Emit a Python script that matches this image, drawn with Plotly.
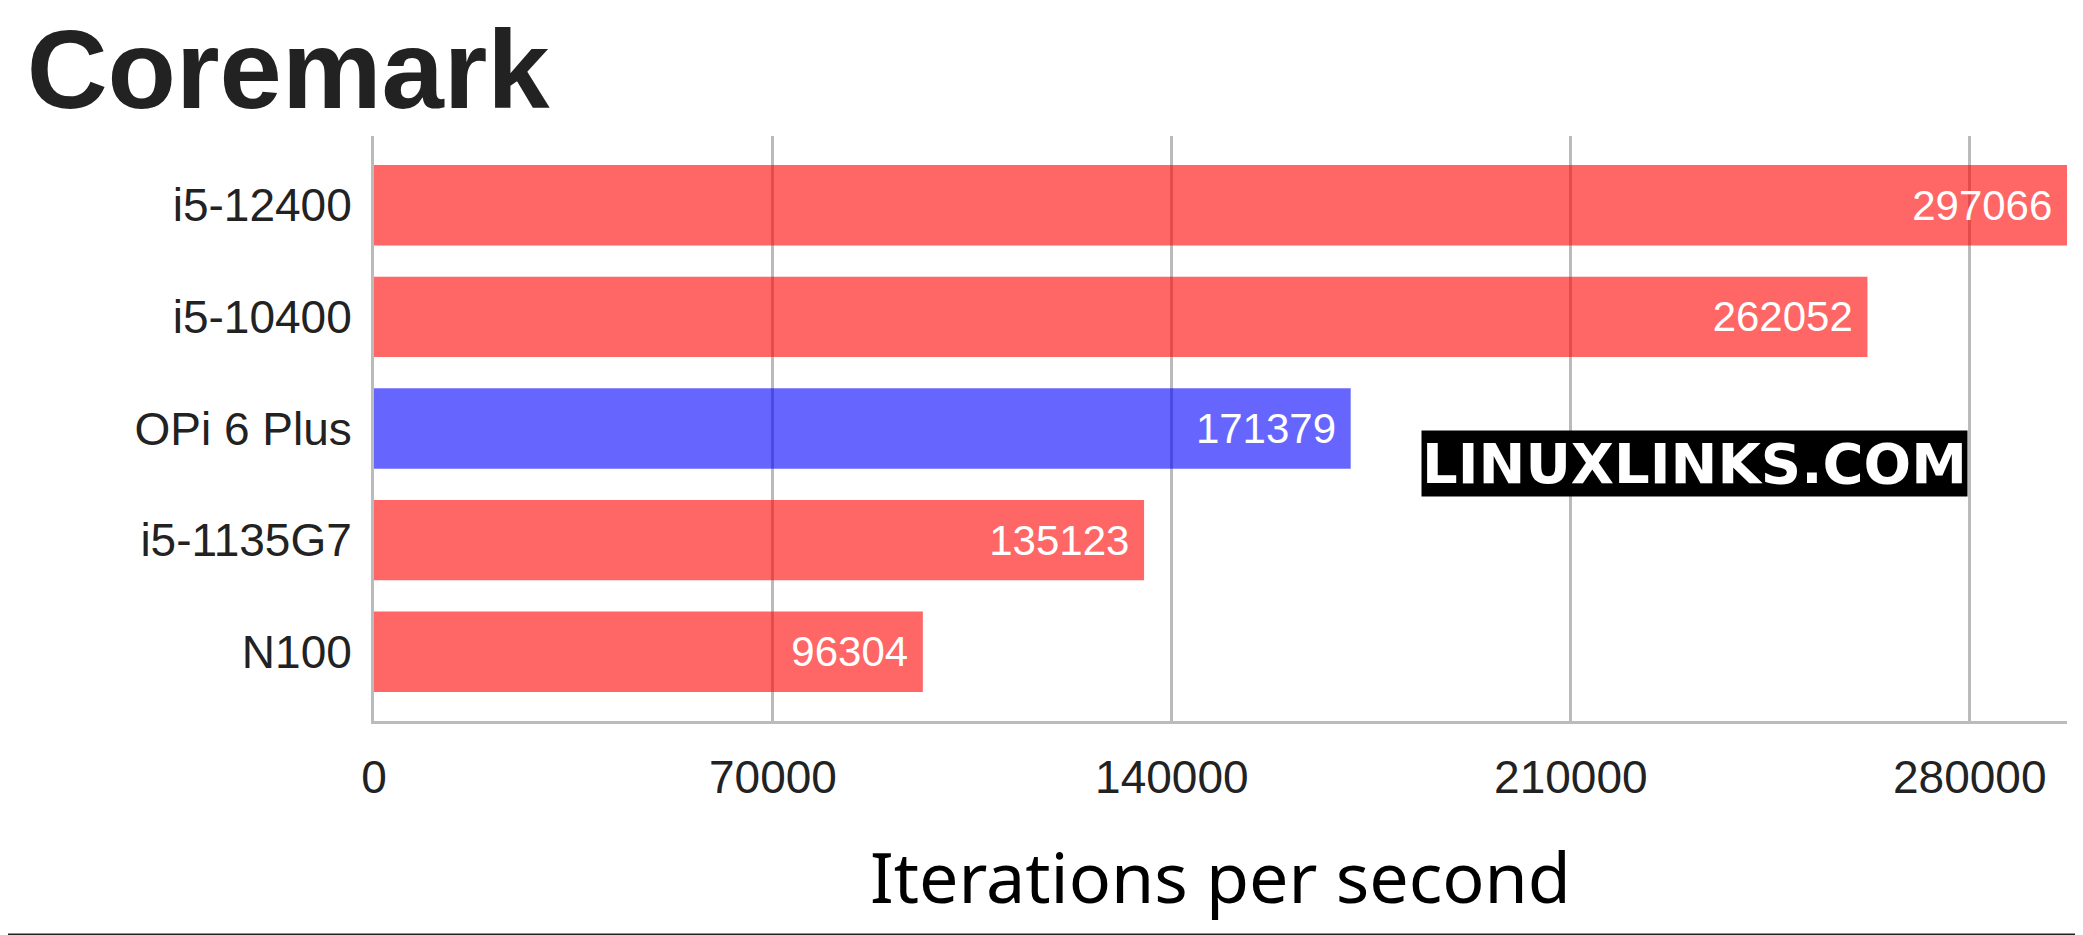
import plotly.graph_objects as go

categories = ["N100", "i5-1135G7", "OPi 6 Plus", "i5-10400", "i5-12400"]
values = [96304, 135123, 171379, 262052, 297066]
colors = ["rgba(255,0,0,0.6)", "rgba(255,0,0,0.6)", "rgba(0,0,255,0.6)", "rgba(255,0,0,0.6)", "rgba(255,0,0,0.6)"]
tick_vals = [0, 70000, 140000, 210000, 280000]

H_PLOT = 935 - 128 - 222

fig = go.Figure(go.Bar(
    x=values, y=categories, orientation="h",
    marker=dict(color=colors, line=dict(width=0)),
    text=[str(v) + " " for v in values], textposition="inside", insidetextanchor="end",
    textfont=dict(color="white", size=42, family="Liberation Sans"),
))
fig.update_layout(
    width=2083, height=935, plot_bgcolor="white", paper_bgcolor="white",
    margin=dict(l=366, r=24, t=128, b=222),
    bargap=0.28, showlegend=False,
    title=dict(text="<b>Coremark</b>", x=0.009, xanchor="left", y=0.935, yanchor="middle",
               font=dict(size=112, family="Liberation Sans", color="#222")),
    xaxis=dict(range=[0, 297066], tickvals=tick_vals, ticktext=[str(v) for v in tick_vals],
               showgrid=True, gridcolor="#bbbbbb", gridwidth=3,
               showline=True, linecolor="#bbbbbb", linewidth=3, zeroline=False,
               ticks="outside", ticklen=14, tickcolor="white",
               tickfont=dict(size=46, family="Liberation Sans", color="#222"),
               title=dict(text="Iterations per second", font=dict(size=70, family="Noto Sans", color="black"), standoff=52)),
    yaxis=dict(showline=True, linecolor="#bbbbbb", linewidth=3, ticks="outside", ticklen=10, tickcolor="white",
               range=[-0.62, 4.62],
               tickfont=dict(size=46, family="Liberation Sans", color="#222")),
    shapes=[dict(type="line", xref="paper", yref="paper", x0=-0.3, x1=1.02, layer="above",
                 y0=-(222 - 8) / H_PLOT, y1=-(222 - 8) / H_PLOT,
                 line=dict(color="#222", width=3))],
    annotations=[dict(text="<b>LINUXLINKS.COM</b>", xref="paper", yref="paper", x=0.78, y=0.44,
                      xanchor="center", yanchor="middle",
                      showarrow=False, bgcolor="black", borderpad=0,
                      font=dict(size=56, family="DejaVu Sans", color="white"))],
)
fig.write_html("out.html")
